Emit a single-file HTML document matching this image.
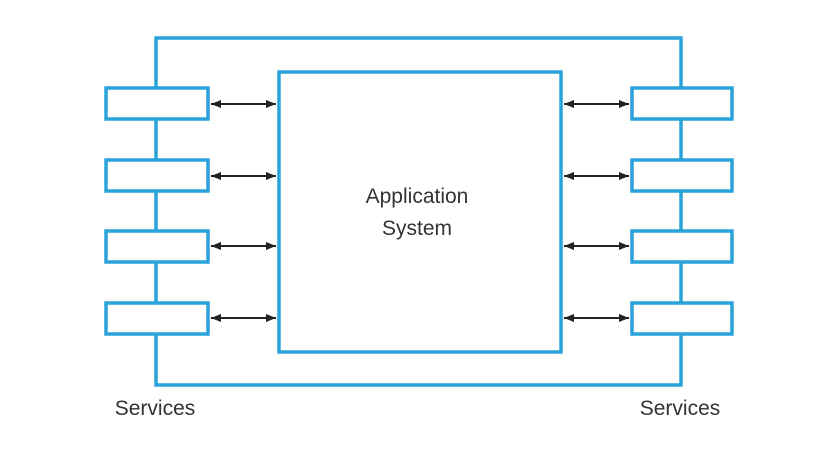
<!DOCTYPE html><html><head><style>body{margin:0;background:#fff}</style></head><body>
<svg width="819" height="460" xmlns="http://www.w3.org/2000/svg">
<defs><marker id="a" viewBox="0 0 10 10" refX="10" refY="5" markerWidth="6" markerHeight="5" orient="auto-start-reverse"><path d="M0,1L10,5L0,9z" fill="#222"/></marker></defs>
<g fill="none" stroke="#29a3d9" stroke-width="3.5">
<rect x="156" y="38" width="525" height="347"/>
<rect x="279" y="72" width="282" height="280" fill="#fff"/>
<g fill="#fff">
<rect x="106" y="88" width="102" height="31"/><rect x="106" y="160" width="102" height="31"/><rect x="106" y="231" width="102" height="31"/><rect x="106" y="303" width="102" height="31"/>
<rect x="632" y="88" width="100" height="31"/><rect x="632" y="160" width="100" height="31"/><rect x="632" y="231" width="100" height="31"/><rect x="632" y="303" width="100" height="31"/>
</g></g>
<g stroke="#222" stroke-width="2" marker-start="url(#a)" marker-end="url(#a)">
<line x1="211" y1="104" x2="276" y2="104"/><line x1="211" y1="176" x2="276" y2="176"/><line x1="211" y1="246" x2="276" y2="246"/><line x1="211" y1="318" x2="276" y2="318"/>
<line x1="564" y1="104" x2="629" y2="104"/><line x1="564" y1="176" x2="629" y2="176"/><line x1="564" y1="246" x2="629" y2="246"/><line x1="564" y1="318" x2="629" y2="318"/>
</g>
<g font-family="Liberation Sans, sans-serif" font-size="21" fill="#333" text-anchor="middle">
<text x="417" y="203">Application</text><text x="417" y="235">System</text>
<text x="155" y="415">Services</text><text x="680" y="415">Services</text>
</g>
</svg></body></html>
